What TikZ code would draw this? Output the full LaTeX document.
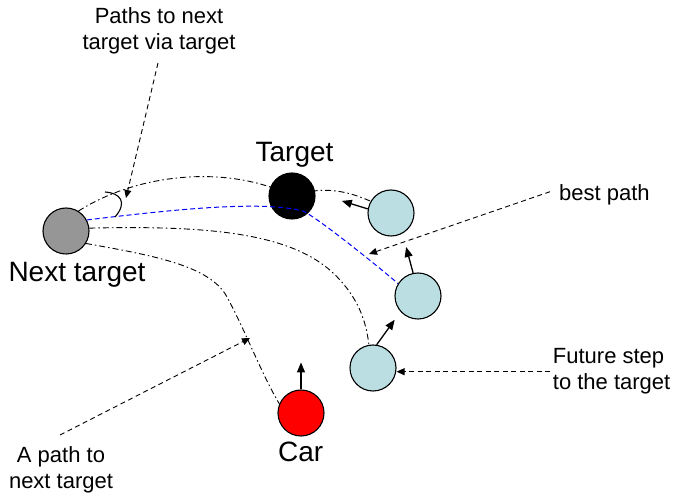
\documentclass[tikz,border=0pt]{standalone}
\usepackage{fontspec}
\setmainfont{Liberation Sans}
\usetikzlibrary{arrows.meta}
\definecolor{lblue}{RGB}{187,222,227}
\definecolor{ntgray}{RGB}{150,150,150}
\begin{document}
\begin{tikzpicture}[x=1pt,y=-1pt,
  dot/.style={circle,draw=black,line width=1.1pt,minimum size=46pt,inner sep=0pt},
  bigtxt/.style={font=\fontsize{28}{33}\selectfont,inner sep=0pt,anchor=base},
  smalltxt/.style={font=\fontsize{22}{26.5}\selectfont,inner sep=0pt},
  annot/.style={line width=0.9pt,dash pattern=on 5pt off 3.5pt,-{Triangle[length=8pt,width=7pt]}},
  dashdot/.style={line width=0.9pt,dash pattern=on 6pt off 3pt on 1.5pt off 3pt},
  bluepath/.style={line width=1pt,blue,dash pattern=on 5pt off 3pt},
  heading/.style={line width=1.3pt,-{Triangle[length=10pt,width=8pt]}}
]
\useasboundingbox (0,0) rectangle (673,494);

% circles (target drawn before the path that passes in front of it)
\node[dot,fill=ntgray] (nt) at (66,231) {};
\node[dot,fill=lblue] (f1) at (391,213) {};
\node[dot,fill=lblue] (f2) at (418,296) {};
\node[dot,fill=lblue] (f3) at (373,368) {};
\node[dot,fill=red] (car) at (301,413) {};

% path via target (hidden behind target)
\draw[dashdot] (nt.58) .. controls (140,172) and (230,165) .. (292,196)
  .. controls (322,186) and (345,190) .. (f1.150);
\node[dot,fill=black] (tg) at (292,196) {};

% best path (blue, in front of target)
\draw[bluepath] (nt.28) .. controls (170,210) and (260,200) .. (303,211)
  .. controls (318,218) and (380,268) .. (f2.148);

% path to future step
\draw[dashdot] (nt.7) .. controls (220,225) and (300,235) .. (340,280)
  .. controls (358,300) and (366,320) .. (f3.100);

% path to next target from car
\draw[dashdot] (nt.-32) .. controls (150,255) and (210,265) .. (227,297)
  .. controls (245,330) and (262,375) .. (car.157);

% headings
\draw[heading] (car.north) -- ++(0,-27);
\draw[heading] (f3.81) -- ++(18,-25);
\draw[heading] (f2.102) -- ++(-7,-26);
\draw[heading] (f1.170) -- ++(-26,-8);

% labels
\node[bigtxt] (tgl) at (294.5,162) {Target};
\node[bigtxt] (ntl) at (77,281.7) {Next target};
\node[bigtxt] (carl) at (300.7,462) {Car};

\node[smalltxt,align=center,anchor=base] (p1) at (159,50) {Paths to next\\target via target};
\node[smalltxt,anchor=base west] (bp) at (559,200.5) {best path};
\node[smalltxt,align=left,anchor=base west] (fs) at (552.7,390) {Future step\\to the target};
\node[smalltxt,align=center,anchor=base] (apt) at (61,489) {A path to\\next target};

% annotation arrows
\coordinate (p1e) at (126,198);
\coordinate (bpe) at (369,254);
\coordinate (apte) at (250,338);
\draw[annot] (158,63) -- (p1e);
\draw[annot] (550,191.7) -- (bpe);
\draw[annot] (550,371.7) -- (f3.east |- 0,371.7);
\draw[annot] (60,435) -- (apte);

% angle mark on the paths
\draw[line width=1.1pt] (105,192) .. controls (120,193) and (128,202) .. (115,217);
\end{tikzpicture}
\end{document}
